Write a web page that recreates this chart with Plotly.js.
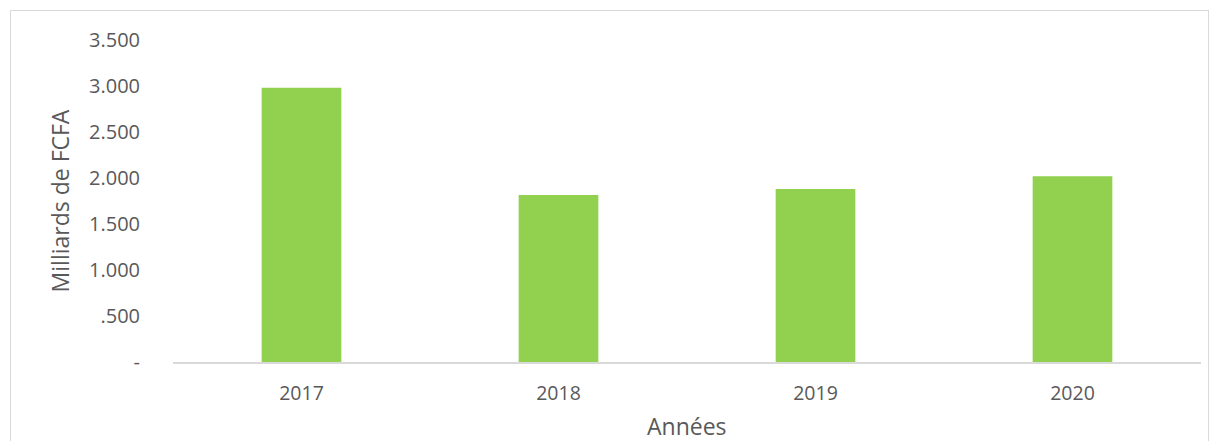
<!DOCTYPE html>
<html>
<head>
<meta charset="utf-8">
<script src="https://cdn.plot.ly/plotly-3.0.1.min.js"></script>
<style>
  html, body { margin: 0; padding: 0; background: #fff; }
  #wrap { position: relative; width: 1219px; height: 441px; overflow: hidden; }
  #chart { width: 1219px; height: 441px; }
  #frame { position: absolute; left: 10px; top: 10px; width: 1197px; height: 460px;
           border: 1px solid #d9d9d9; pointer-events: none; }
</style>
</head>
<body>
<div id="wrap">
  <div id="chart"></div>
  <div id="frame"></div>
</div>
<script>
const years = ['2017', '2018', '2019', '2020'];
const values = [2.98, 1.815, 1.88, 2.02];
const yTickVals = [0, 0.5, 1, 1.5, 2, 2.5, 3, 3.5];
const yTickText = ['-', '.500', '1.000', '1.500', '2.000', '2.500', '3.000', '3.500'];
const xTitle = 'Années';
const yTitle = 'Milliards de FCFA';

const textColor = '#595959';
const fontFam = '"Open Sans", "DejaVu Sans", sans-serif';

Plotly.newPlot('chart', [{
  type: 'bar',
  x: years,
  y: values,
  marker: { color: '#92d050' },
  hoverinfo: 'x+y'
}], {
  width: 1219,
  height: 441,
  margin: { l: 173, r: 18, t: 40, b: 79 },
  paper_bgcolor: '#ffffff',
  plot_bgcolor: '#ffffff',
  bargap: 0.69,
  showlegend: false,
  font: { family: fontFam, color: textColor, size: 19 },
  xaxis: {
    type: 'category',
    showline: true,
    linecolor: '#d9d9d9',
    linewidth: 2,
    showgrid: false,
    zeroline: false,
    ticks: 'outside',
    ticklen: 13,
    tickcolor: 'rgba(0,0,0,0)',
    tickfont: { family: fontFam, color: textColor, size: 19.5 },
    automargin: false
  },
  yaxis: {
    range: [0, 3.5],
    tickvals: yTickVals,
    ticktext: yTickText,
    showline: false,
    showgrid: false,
    zeroline: false,
    ticks: 'outside',
    ticklen: 28,
    tickcolor: 'rgba(0,0,0,0)',
    tickfont: { family: fontFam, color: textColor, size: 20 },
    title: { text: yTitle, font: { family: fontFam, color: textColor, size: 23 }, standoff: 12 },
    automargin: false
  },
  annotations: [{
    text: xTitle,
    xref: 'paper', yref: 'paper',
    x: 0.5, y: -64 / 322,
    xanchor: 'center', yanchor: 'middle',
    showarrow: false,
    font: { family: fontFam, color: textColor, size: 23 }
  }]
}, { displayModeBar: false, staticPlot: true });
</script>
</body>
</html>
